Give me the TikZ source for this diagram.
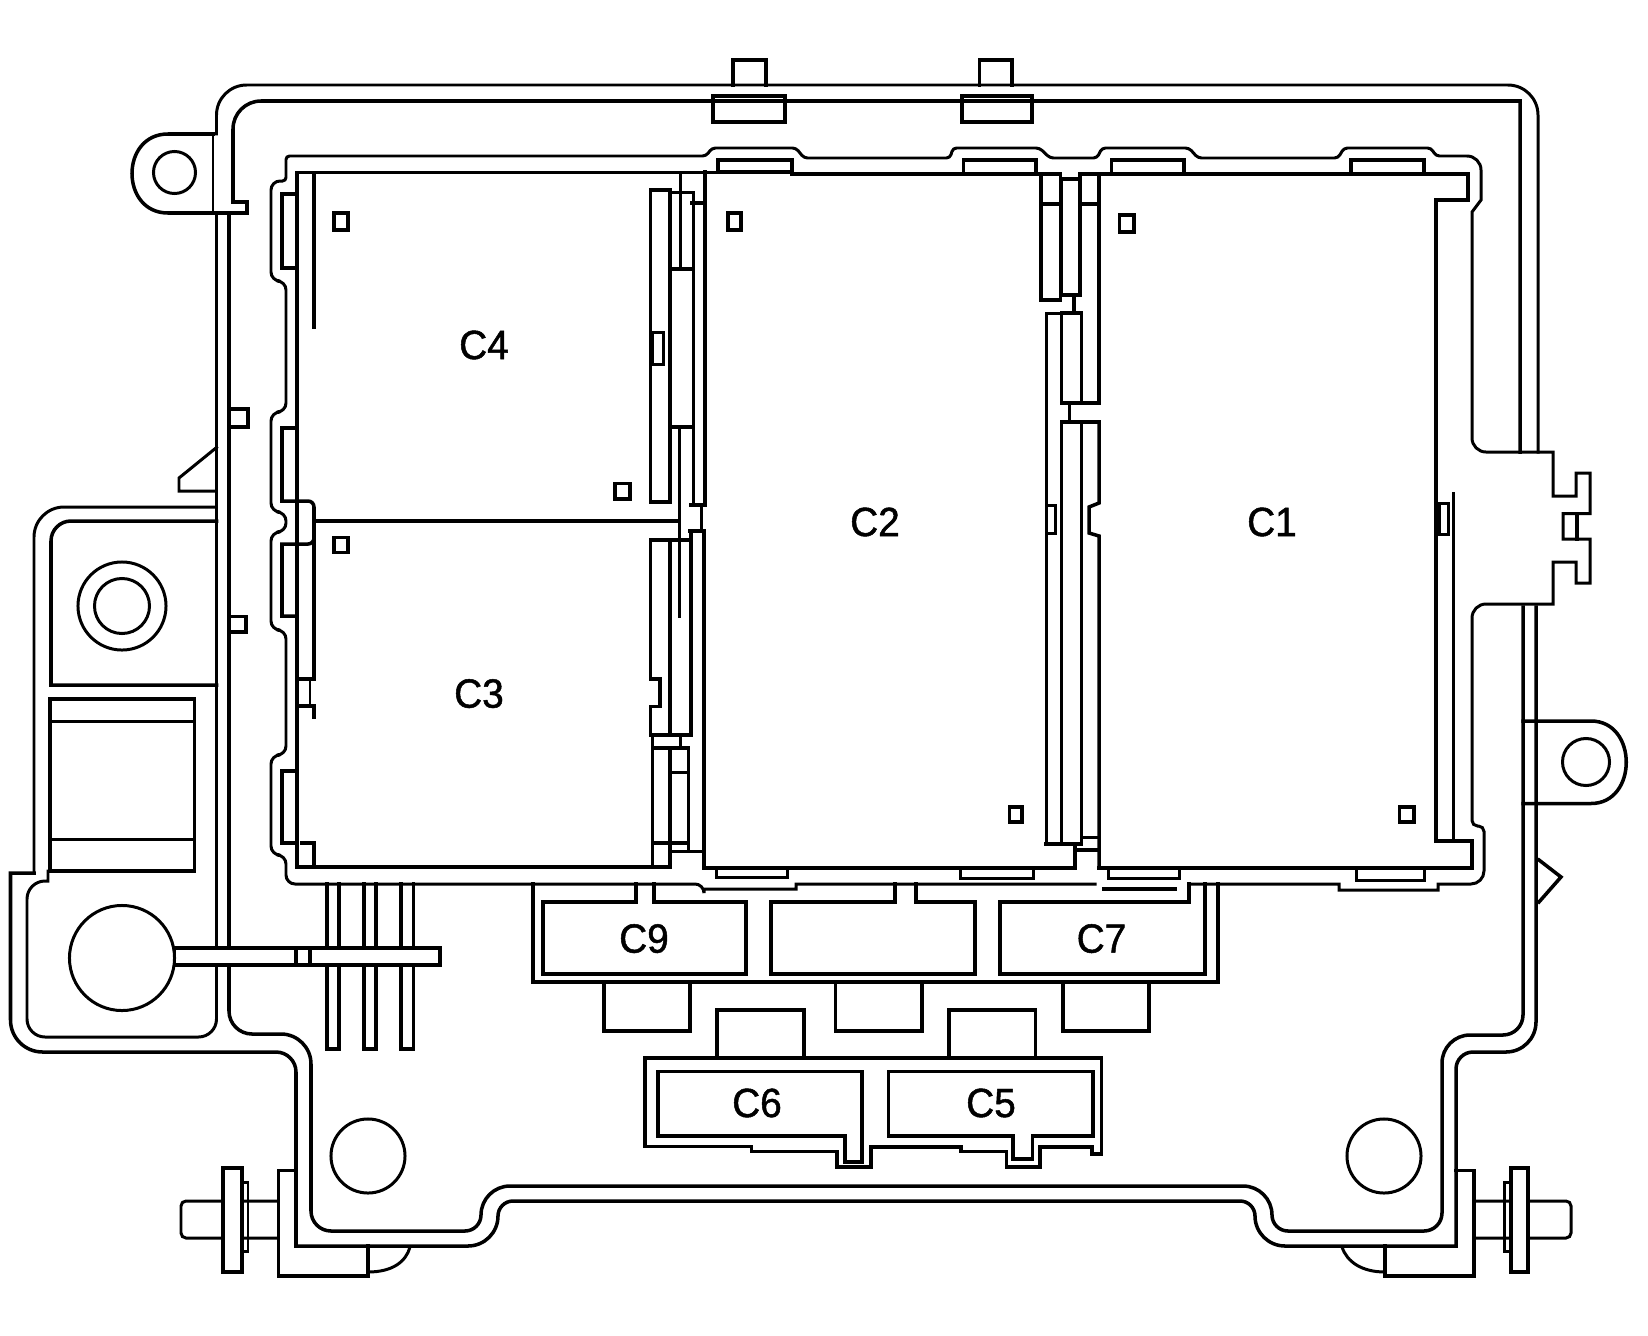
\documentclass[tikz,border=0pt]{standalone}
\usepackage{fontspec}
\setmainfont{Liberation Sans}
\newfontfamily\plugfont[FakeBold=1.2,FakeStretch=0.95]{Liberation Sans}

\begin{document}
\begin{tikzpicture}[x=0.01cm,y=-0.01cm,line width=1pt,line cap=rect,
    lite/.style={line width=0.85pt},
    hole/.style={draw,fill=white,lite},
    plug/.style={font=\plugfont\fontsize{11.6}{12}\selectfont,inner sep=0pt}]
  \useasboundingbox (0,0) rectangle (1648,1336);

  % housing, top half
  \draw[lite,rounded corners=0.3cm] (216.5,134) -- (216.5,85) -- (1538,85) -- (1538,452);
  \draw (1520,452) -- (1520,101) [rounded corners=0.28cm] -- (233,101) [sharp corners] -- (233,202) -- (247,202) -- (247,213) -- (213,213);
  \draw[lite] (213,134) -- (213,213);
  \draw (213,134) -- (168,134) .. controls (120,134) and (120,213) .. (168,213) -- (213,213);
  \draw[lite] (174.5,172.5) circle (0.21cm);

  % housing, bottom half
  \draw (1536,607) [rounded corners=0.3cm] -- (1536,1052) [rounded corners=0.17cm] -- (1456,1052) [sharp corners] -- (1456,1246) [rounded corners=0.3cm] -- (1255,1246) [rounded corners=0.15cm] -- (1255,1201) -- (498,1201) [rounded corners=0.3cm] -- (498,1246) [sharp corners] -- (296,1246) [rounded corners=0.2cm] -- (296,1052) [rounded corners=0.32cm] -- (10.5,1052) [sharp corners] -- (10.5,873) -- (34,873);
  \draw[lite,rounded corners=0.3cm] (34,873) -- (34,507) -- (216.5,507);
  \draw (229,213) [rounded corners=0.23cm] -- (229,1034) [rounded corners=0.3cm] -- (311,1034) [rounded corners=0.2cm] -- (311,1231) [rounded corners=0.16cm] -- (481,1231) [rounded corners=0.29cm] -- (481,1186) -- (1272,1186) [rounded corners=0.16cm] -- (1272,1231) [rounded corners=0.18cm] -- (1442,1231) [rounded corners=0.28cm] -- (1442,1035) [rounded corners=0.2cm] -- (1523,1035) -- (1523,607);
  \draw (216.5,213) -- (216.5,685);
  \draw[lite] (216.5,685) [rounded corners=0.18cm] -- (216.5,1037) -- (27,1037) -- (27,881) [sharp corners] -- (48,881) -- (48,871);

  % battery block
  \draw (216.5,685) -- (51,685) [rounded corners=0.2cm] -- (51,521) -- (216.5,521);
  \draw[lite] (122,606) circle (0.44cm);
  \draw[lite] (122,606) circle (0.275cm);
  \draw (50,699) rectangle (194.5,871);
  \draw[lite] (50,721) -- (194.5,721);
  \draw[lite] (50,839) -- (194.5,839);

  % small parts on the housing
  \draw (733,85) -- (733,60) -- (766,60) -- (766,85);
  \draw (713,96) rectangle (785,122);
  \draw (979.5,85) -- (979.5,60) -- (1012,60) -- (1012,85);
  \draw (962,96) rectangle (1032,122);
  \draw (230,409) -- (248,409) -- (248,427) -- (230,427);
  \draw (230,616.5) -- (246,616.5) -- (246,632) -- (230,632);
  \draw[lite] (216.5,447.5) -- (179,478) -- (179,491) -- (216.5,491);
  \draw (1539,860) -- (1561,877) -- (1539,902);

  % right lug
  \draw (1523,721) -- (1591,721) .. controls (1638,721) and (1638,803.5) .. (1591,803.5) -- (1523,803.5);
  \draw[lite] (1586,762) circle (0.235cm);

  % rim of the relay block
  \draw[lite] (1189,884) -- (1339,884) -- (1339,890) -- (1438,890) -- (1438,884) [rounded corners=0.13cm] -- (1484,884) [rounded corners=0.055cm] -- (1484,826) -- (1472,826) [rounded corners=0.14cm] -- (1472,604) [sharp corners] -- (1553,604) -- (1553,562) -- (1576,562) -- (1576,583) -- (1590,583) -- (1590,539) -- (1563,539) -- (1563,513.5) -- (1590,513.5) -- (1590,473) -- (1576,473) -- (1576,496) -- (1553,496) -- (1553,452) [rounded corners=0.14cm] -- (1472,452) [sharp corners] -- (1472,212) -- (1481,200) [rounded corners=0.14cm] -- (1481,156) [rounded corners=0.035cm] -- (1436,156) -- (1431,148) -- (1344,148) -- (1338,158) -- (1198,158) -- (1189,148) -- (1102,148) -- (1097,158) -- (1050,158) -- (1039.5,148) -- (953,148) -- (950,158) -- (804,158) -- (796,148) -- (712,148) -- (706,156) -- (286,156) -- (286,181) [rounded corners=0.09cm] -- (271,181) -- (271,281) -- (286,281) -- (286,412) -- (271,412) -- (271,512) -- (286,512) -- (286,532) -- (271,532) -- (271,630) -- (286,630) -- (286,755) -- (271,755) -- (271,855) -- (286,855) -- (286,884) -- (704,884) [sharp corners] -- (704,889) -- (796,889) -- (796,884) -- (1095,884);
  \draw (1104,889) -- (1175,889);
  \draw (1577,513.5) -- (1577,539);

  % C4 and C3 frame
  \draw (314,327) -- (314,173);
  \draw (718,172.6) -- (297,172.6) -- (297,867) -- (670,867);
  \draw (314,521) -- (679,521);
  \draw (650.5,190) rectangle (670,502);
  \draw[lite] (670,192) -- (693,192) -- (693,505);
  \draw[lite] (680.5,172) -- (680.5,269);
  \draw (670,269) -- (691,269) (670,427) -- (691,427);
  \draw[lite] (652,332.5) rectangle (663,364);
  \draw[lite] (679,427) -- (679,616);
  \draw (692,203) -- (705,203);
  \draw (705,172) -- (705,505) -- (691,505);
  \draw (701.5,505) -- (701.5,531);
  \draw (690,531) -- (704,531) -- (704,868);
  \draw (650.5,540) -- (690,540);
  \draw (650.5,540) -- (650.5,679) -- (660,679) -- (660,706.4) -- (650.5,706.4) -- (650.5,735) -- (691,735) -- (691,531);
  \draw (670,540) -- (670,735);
  \draw[lite] (680.5,735) -- (680.5,748);
  \draw (652.7,736) -- (652.7,867);
  \draw (652.7,748) rectangle (688.4,843);
  \draw (670,748) -- (670,867);
  \draw[lite] (670,772.5) -- (688.4,772.5);
  \draw (670,851.5) -- (704,851.5);
  \draw (688.4,843) -- (688.4,851.5);

  % left edge clips
  \draw (297,194) -- (282,194) -- (282,268) -- (297,268);
  \draw (297,428) -- (282,428) -- (282,501) -- (305,501) [rounded corners=0.06cm] -- (314,501) -- (314,544) [sharp corners] -- (282,544) -- (282,616) -- (297,616);
  \draw (314,521) -- (314,679) -- (297,679);
  \draw (297,706) -- (314,706) -- (314,717);
  \draw[lite] (310,679) -- (310,706);
  \draw (297,771) -- (282,771) -- (282,843) -- (297,843);
  \draw (302,843) -- (314,843) -- (314,867);

  % C2 and C1 frame
  \draw (792,174) -- (1060,174);
  \draw (1080,174) -- (1468,174) -- (1468,200) -- (1436,200) -- (1436,841) -- (1472,841) -- (1472,868) -- (1099,868);
  \draw (1099,174) -- (1099,403) -- (1081.5,403);
  \draw (1099,422) -- (1099,503) -- (1089,507) -- (1089,533) -- (1099,536) -- (1099,868);
  \draw (704,868) -- (1075,868) -- (1075,845);
  \draw[lite] (1439,503) rectangle (1448,534);
  \draw[lite] (1453,493) -- (1453,841);

  % strip between C2 and C1
  \draw (1041,174) rectangle (1060.5,300);
  \draw (1041,204) -- (1060.5,204);
  \draw (1061.5,179) rectangle (1080,295);
  \draw (1080,174) -- (1080,179);
  \draw (1080,204) -- (1099,204);
  \draw (1074,295) -- (1074,313);
  \draw[lite] (1046,313) -- (1046,844);
  \draw[lite] (1046,313) -- (1061.5,313);
  \draw (1061.5,313) rectangle (1081.5,403);
  \draw[lite] (1069.5,403) -- (1069.5,422);
  \draw (1061.5,422) -- (1099,422);
  \draw (1061.5,422) -- (1061.5,844);
  \draw[lite] (1081.5,422) -- (1081.5,844);
  \draw (1046,844) -- (1081.5,844);
  \draw[lite] (1046,505.6) rectangle (1055,533.5);
  \draw[lite] (1081.5,837) -- (1099,837);
  \draw (1075,850) -- (1099,850);

  % tabs on the top and bottom edges
  \draw (718,172) rectangle (792,160);
  \draw (963.4,174) rectangle (1036,160);
  \draw (1111.5,174) rectangle (1184,160);
  \draw (1351,174) rectangle (1424,160);
  \draw[lite] (716,868) rectangle (787,877);
  \draw[lite] (960,868) rectangle (1033,878);
  \draw[lite] (1108,868) rectangle (1179,878);
  \draw[lite] (1356,868) rectangle (1424,880);

  % small squares
  \draw (334,213) rectangle (348,230);
  \draw (728,213) rectangle (741,230);
  \draw (615,483.5) rectangle (630,499);
  \draw (334,537.6) rectangle (348,552.5);
  \draw (1119.5,215) rectangle (1134,232);
  \draw (1009.5,807) rectangle (1022,822);
  \draw (1399.4,807) rectangle (1414,822);

  % connector row C9, C8, C7
  \draw (533,884) -- (533,982) -- (1218,982) -- (1218,884);
  \draw (636,884) -- (636,902) -- (543,902) -- (543,974) -- (746,974) -- (746,902) -- (654,902) -- (654,884);
  \draw (895,884) -- (895,902) -- (771,902) -- (771,974) -- (975,974) -- (975,902) -- (916,902) -- (916,884);
  \draw (1189,884) -- (1189,902) -- (1000,902) -- (1000,974) -- (1205,974) -- (1205,884);
  \draw (604,982) -- (604,1031) -- (690,1031) -- (690,982);
  \draw (835.6,982) -- (835.6,1031) -- (922,1031) -- (922,982);
  \draw (1063,982) -- (1063,1031) -- (1149,1031) -- (1149,982);

  % connector row C6, C5
  \draw (645,1058) -- (1101.5,1058) -- (1101.5,1154) -- (1092,1154) -- (1092,1147) -- (1040,1147) -- (1040,1167) -- (1006.6,1167) -- (1006.6,1151.6) -- (961,1151.6) -- (961,1147) -- (871,1147) -- (871,1167) -- (837,1167) -- (837,1151.6) -- (751.5,1151.6) -- (751.5,1146.5) -- (645,1146.5) -- cycle;
  \draw (658,1071.5) -- (862,1071.5) -- (862,1162) -- (845,1162) -- (845,1136) -- (658,1136) -- cycle;
  \draw (888.6,1071.5) -- (1093,1071.5) -- (1093,1136) -- (1032.6,1136) -- (1032.6,1159) -- (1013,1159) -- (1013,1136) -- (888.6,1136) -- cycle;
  \draw (717,1058) -- (717,1010) -- (804,1010) -- (804,1058);
  \draw (949,1058) -- (949,1010) -- (1035.3,1010) -- (1035.3,1058);

  % wire pins and strap
  \draw (327,884) -- (327,1049) -- (339,1049) -- (339,884);
  \draw (364,884) -- (364,1049) -- (376,1049) -- (376,884);
  \draw (401,884) -- (401,1049) -- (413.6,1049) -- (413.6,884);
  \draw[fill=white] (174.5,948) rectangle (440,965);
  \draw (296,948) -- (296,965) (310,948) -- (310,965);
  \node[hole,circle,minimum size=1.05cm,inner sep=0pt] (stud) at (122,958) {};

  % mounting holes
  \node[hole,circle,minimum size=0.74cm,inner sep=0pt] (holeL) at (368,1156) {};
  \node[hole,circle,minimum size=0.74cm,inner sep=0pt] (holeR) at (1384,1156) {};

  % left bolt and bracket
  \draw[lite,rounded corners=0.05cm] (278.5,1201) -- (181,1201) -- (181,1238) -- (278.5,1238);
  \draw[fill=white] (223,1168) rectangle (242,1272);
  \draw[lite] (242,1182) -- (248,1182) -- (248,1251) -- (242,1251);
  \draw (296,1170.6) -- (278.5,1170.6) -- (278.5,1276) -- (368,1276) -- (368,1246);
  \draw[lite] (368,1272) .. controls (392,1272) and (406,1262) .. (410,1247);

  % right bolt and bracket
  \draw[lite,rounded corners=0.05cm] (1474,1201) -- (1571,1201) -- (1571,1238) -- (1474,1238);
  \draw[fill=white] (1511,1168) rectangle (1528,1272);
  \draw[lite] (1511,1182) -- (1504.5,1182) -- (1504.5,1251) -- (1511,1251);
  \draw (1456,1170.6) -- (1474,1170.6) -- (1474,1276) -- (1385,1276) -- (1385,1246);
  \draw[lite] (1385,1272) .. controls (1362,1272) and (1347,1262) .. (1342,1247);

  % labels
  \node[plug] (cone) at (1272,522) {C1};
  \node[plug] (ctwo) at (875,522) {C2};
  \node[plug] (cthree) at (479,693.6) {C3};
  \node[plug] (cfour) at (484,345) {C4};
  \node[plug] (cfive) at (991,1103) {C5};
  \node[plug] (csix) at (757,1103) {C6};
  \node[plug] (cseven) at (1101.5,938.6) {C7};
  \node[plug] (cnine) at (644,938.6) {C9};
\end{tikzpicture}
\end{document}
